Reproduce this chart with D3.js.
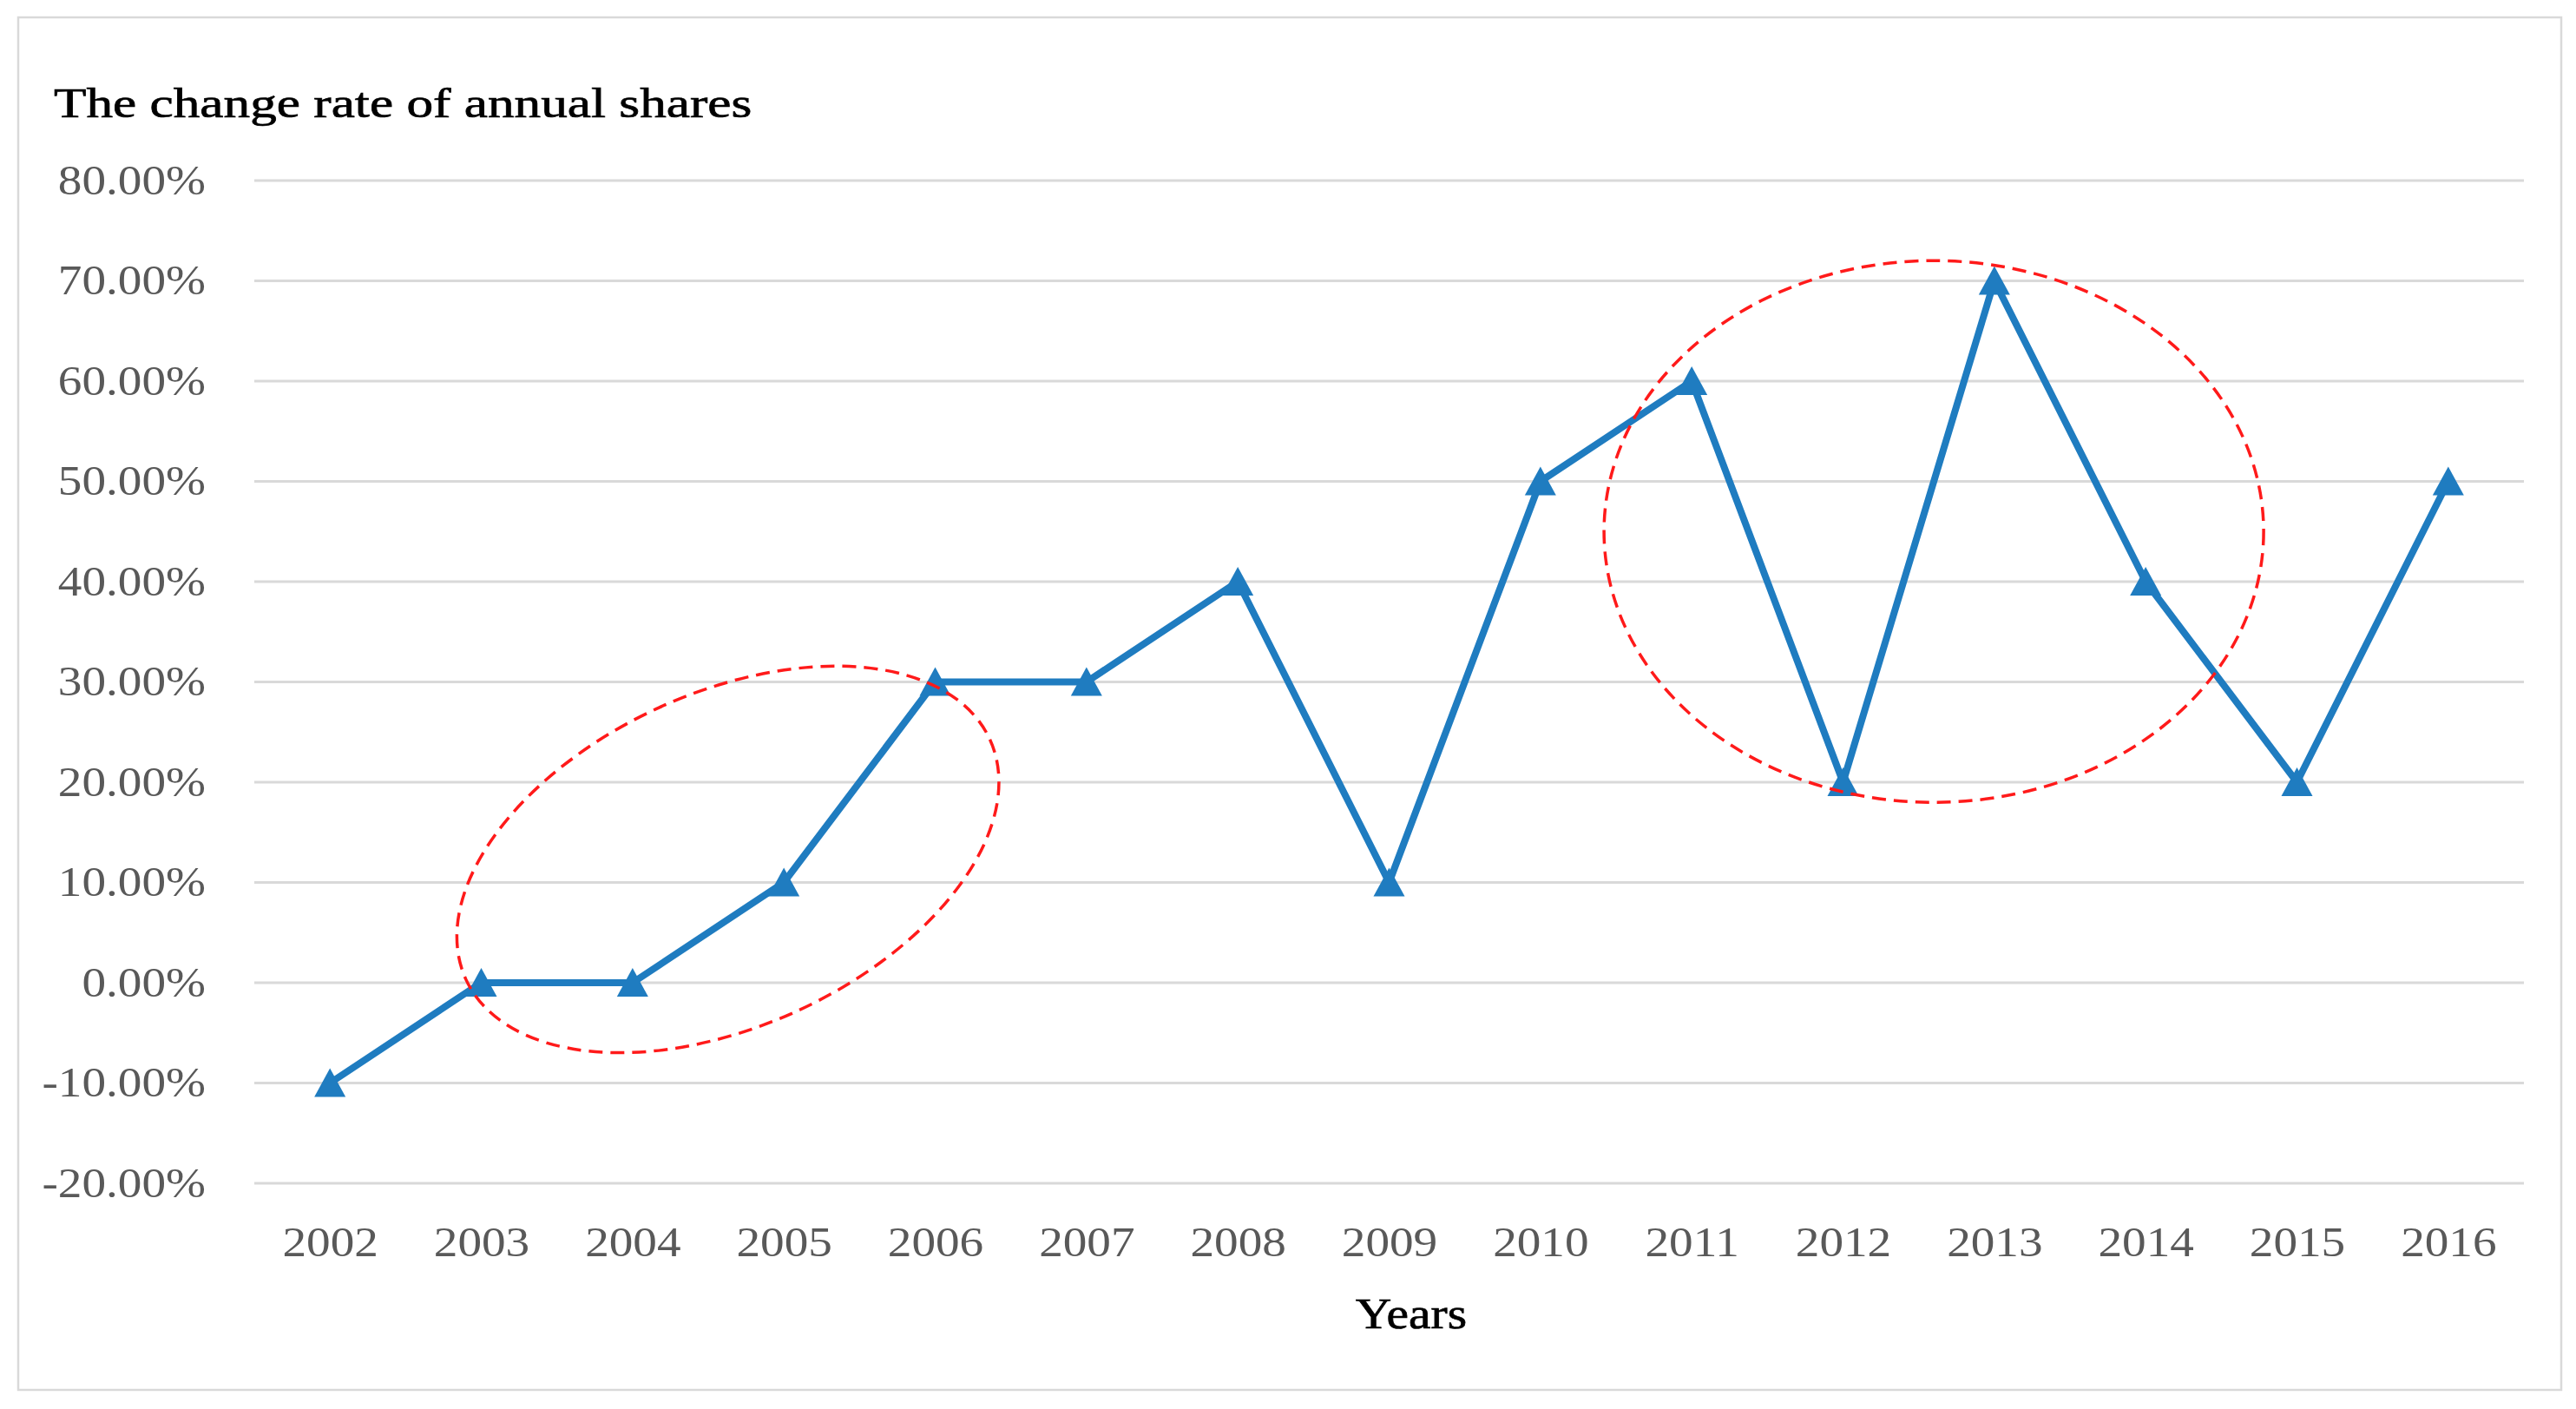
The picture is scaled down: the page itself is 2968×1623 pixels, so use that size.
<!DOCTYPE html>
<html>
<head>
<meta charset="utf-8">
<script src="https://cdn.jsdelivr.net/npm/d3@7"></script>
<style>
    html, body { margin: 0; padding: 0; background: #fff; }
    text { font-family: "Liberation Serif", "DejaVu Serif", serif; }
</style>
</head>
<body>
<div id="chart"></div>
<script>
// values
const years = ["2002", "2003", "2004", "2005", "2006", "2007", "2008", "2009",
               "2010", "2011", "2012", "2013", "2014", "2015", "2016"];
const changeRates = [-0.10, 0.00, 0.00, 0.10, 0.30, 0.30, 0.40, 0.10,
                     0.50, 0.60, 0.20, 0.70, 0.40, 0.20, 0.50];
const yTicks = [-0.2, -0.1, 0, 0.1, 0.2, 0.3, 0.4, 0.5, 0.6, 0.7, 0.8];

// red dashed circles, centre given as (category index, value)
const highlights = [
    { at: 2.63, value: 0.123 },
    { at: 10.6, value: 0.45 }
];

const width = 2968, height = 1623;
const plot = { left: 293, right: 2908, top: 208, bottom: 1363 };

const svg = d3.select("#chart")
    .append("svg")
    .attr("width", width)
    .attr("height", height);

// outer frame
svg.append("rect")
    .attr("x", 21).attr("y", 20)
    .attr("width", 2930).attr("height", 1581)
    .attr("fill", "#fff")
    .attr("stroke", "#d9d9d9")
    .attr("stroke-width", 2.5);

const x = d3.scalePoint()
    .domain(years)
    .range([plot.left, plot.right])
    .padding(0.5);

const y = d3.scaleLinear()
    .domain([-0.2, 0.8])
    .range([plot.bottom, plot.top]);

// text in the picture is a wide serif, so stretch liberation a bit
function stretch(sel, k) {
    sel.each(function () {
        const w = this.getComputedTextLength();
        d3.select(this)
            .attr("textLength", w * k)
            .attr("lengthAdjust", "spacingAndGlyphs");
    });
}

// gridlines
svg.append("g")
    .selectAll("line")
    .data(yTicks)
    .enter()
    .append("line")
    .attr("x1", plot.left)
    .attr("x2", plot.right)
    .attr("y1", d => y(d))
    .attr("y2", d => y(d))
    .attr("stroke", "#d9d9d9")
    .attr("stroke-width", 3);

const yAxis = svg.append("g")
    .attr("transform", `translate(${plot.left},0)`)
    .call(d3.axisLeft(y)
        .tickValues(yTicks)
        .tickSize(0)
        .tickPadding(56)
        .tickFormat(d => (d * 100).toFixed(2) + "%"));
yAxis.select(".domain").remove();
yAxis.selectAll("text")
    .attr("font-size", 48)
    .attr("fill", "#595959")
    .style("font-family", "Liberation Serif");
stretch(yAxis.selectAll("text"), 1.15);

const xAxis = svg.append("g")
    .attr("transform", `translate(0,${plot.bottom})`)
    .call(d3.axisBottom(x).tickSize(0).tickPadding(50));
xAxis.select(".domain").remove();
xAxis.selectAll("text")
    .attr("font-size", 48)
    .attr("fill", "#595959")
    .style("font-family", "Liberation Serif");
stretch(xAxis.selectAll("text"), 1.15);

// titles
const title = svg.append("text")
    .attr("x", 62)
    .attr("y", 135)
    .attr("font-size", 49)
    .attr("fill", "#000")
    .attr("stroke", "#000")
    .attr("stroke-width", 0.7)
    .text("The change rate of annual shares");
stretch(title, 1.25);

const xTitle = svg.append("text")
    .attr("x", 1626)
    .attr("y", 1530)
    .attr("text-anchor", "middle")
    .attr("font-size", 50)
    .attr("fill", "#000")
    .attr("stroke", "#000")
    .attr("stroke-width", 0.7)
    .text("Years");
stretch(xTitle, 1.15);

// series
const points = years.map((yr, i) => ({ year: yr, value: changeRates[i] }));

const line = d3.line()
    .x(d => x(d.year))
    .y(d => y(d.value));

svg.append("path")
    .datum(points)
    .attr("fill", "none")
    .attr("stroke", "#1f7cc0")
    .attr("stroke-width", 8)
    .attr("stroke-linejoin", "round")
    .attr("d", line);

// triangle markers, centred on the value like excel does
svg.selectAll(".marker")
    .data(points)
    .enter()
    .append("path")
    .attr("class", "marker")
    .attr("fill", "#1f7cc0")
    .attr("d", d => {
        const cx = x(d.year), cy = y(d.value);
        return `M${cx},${cy - 17}L${cx + 18},${cy + 16}L${cx - 18},${cy + 16}Z`;
    });

// annotation ellipses
const ellipseShape = [
    { rx: 332, ry: 192, angle: -24.6 },
    { rx: 380, ry: 312, angle: 0 }
];
const step = x.step();

svg.selectAll(".highlight")
    .data(highlights)
    .enter()
    .append("ellipse")
    .attr("class", "highlight")
    .attr("transform", (d, i) => {
        const cx = x(years[0]) + d.at * step;
        const cy = y(d.value);
        return `translate(${cx},${cy}) rotate(${ellipseShape[i].angle})`;
    })
    .attr("rx", (d, i) => ellipseShape[i].rx)
    .attr("ry", (d, i) => ellipseShape[i].ry)
    .attr("fill", "none")
    .attr("stroke", "#ff1a1a")
    .attr("stroke-width", 3.5)
    .attr("stroke-dasharray", "16,9");
</script>
</body>
</html>
